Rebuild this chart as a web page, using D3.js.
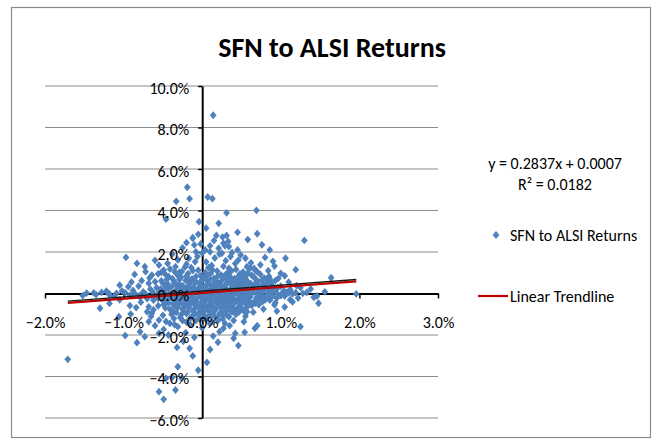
<!DOCTYPE html>
<html><head><meta charset="utf-8">
<script src="https://cdn.jsdelivr.net/npm/d3@7"></script>
<style>body{margin:0;background:#fff}svg{display:block}</style>
</head><body><svg id="c" width="655" height="441"></svg>
<script>
const chartTitle = "SFN to ALSI Returns";
const seriesName = "SFN to ALSI Returns";
const trendName = "Linear Trendline";
const trendSlope = 0.2837;
const trendIntercept = 0.0007;
const trendR2 = 0.0182;
const xTicks = [-0.02, -0.01, 0, 0.01, 0.02, 0.03];
const yTicks = [-0.06, -0.04, -0.02, 0, 0.02, 0.04, 0.06, 0.08, 0.10];

// [ALSI daily return %, SFN daily return %]
const outliersHigh = [[0.14,8.59],[-0.19,5.12],[-0.33,4.44],[-0.16,4.57],[-0.46,3.58],[-0.04,3.46],[-0.12,2.69],[-0.02,2.39],[0.07,4.65],[0.13,4.57],[0.31,3.89],[0.69,4.01],[0.21,3.38],[0.70,2.88],[0.18,2.80],[0.26,2.72],[0.31,2.80],[0.33,2.51],[0.29,2.30],[0.34,2.26],[1.30,2.56],[0.86,2.10]];
const outliersLow = [[-1.71,-3.17],[-1.30,-0.71],[-1.06,-1.12],[-0.91,-0.99],[-0.84,-0.68],[-0.98,-2.03],[-0.83,-2.37],[-0.79,-1.84],[-0.73,-2.08],[-0.68,-1.36],[-0.60,-1.55],[-0.55,-1.92],[-0.49,-1.73],[-0.41,-1.44],[-0.43,-2.00],[-0.31,-3.53],[-0.46,-4.09],[-0.38,-4.04],[-0.34,-4.65],[-0.55,-4.73],[-0.49,-5.10],[-0.26,-4.09],[-0.16,-2.64],[-0.12,-3.01],[-0.10,-2.11],[-0.21,-1.89],[-0.31,-1.60],[-0.68,-0.64],[-0.70,-0.88],[-0.64,-0.95],[-0.55,-1.28],[0.06,-3.32],[0.20,-2.35],[0.46,-2.51],[0.40,-2.16],[0.42,-1.92],[0.54,-1.87],[0.67,-1.68],[0.70,-1.55],[0.53,-1.36],[0.57,-0.88],[1.25,-1.60],[0.22,-1.84],[0.27,-1.68],[0.29,-1.44],[1.42,-0.18],[1.48,-0.47],[0.92,-0.55],[0.80,-0.31],[0.87,-0.23],[0.04,-0.80],[0.12,-0.95],[0.34,-1.12],[0.38,-0.88]];
const upperSpread = [[1.06,1.70],[0.80,1.74],[1.19,1.15],[0.84,1.10],[1.00,0.97],[0.97,0.73],[1.64,0.76],[0.49,1.86],[0.46,1.61],[0.38,1.97],[0.34,1.21],[0.36,1.13],[0.57,1.29],[0.66,1.21],[0.70,1.05],[0.83,0.73],[0.87,0.57],[0.55,0.73],[0.59,0.49],[0.04,2.10],[0.10,2.01],[0.27,2.42],[0.21,2.18],[0.25,1.94],[-0.97,1.74],[-0.83,1.45],[-0.73,1.29],[-0.72,1.05],[-0.64,0.89],[-0.55,1.37],[-0.49,1.13],[-0.43,0.81],[-0.34,1.29],[-0.26,1.05],[-0.94,0.33],[-0.81,0.36],[-0.68,0.49],[-0.60,0.57],[-0.12,2.66],[-0.10,2.34],[-0.08,2.01],[-0.17,1.70],[-0.09,1.53],[-0.31,1.62],[-0.20,1.41],[-0.06,1.78],[0.05,1.52],[0.12,1.35],[0.16,1.71],[0.30,1.58],[0.42,1.44],[-0.38,1.90],[0.00,1.95],[0.22,1.90],[0.55,1.70],[-0.25,2.20],[0.10,2.30],[-0.44,1.45],[-0.14,1.25],[0.62,1.48],[0.74,1.38],[0.92,1.32],[0.45,2.10],[0.15,2.55],[-0.05,2.85],[-0.20,2.45],[0.36,1.78],[-0.60,1.60],[-0.67,0.75],[-0.77,0.62],[-0.90,0.55],[-1.05,0.40],[-0.56,0.95],[-0.86,0.92],[1.10,0.55],[1.20,0.38],[1.05,0.85],[0.90,1.55],[0.76,2.35],[0.58,2.60],[0.45,2.95],[0.05,3.15]];
const lowerSpread = [[-0.62,-0.78],[-0.78,-0.42],[-0.92,-0.58],[-1.05,-0.30],[-1.18,-0.48],[-0.50,-1.05],[-0.46,-1.35],[-0.35,-1.50],[-0.25,-1.30],[-0.65,-1.10],[-0.24,-2.30],[-0.32,-2.60],[0.00,-1.65],[0.10,-1.45],[0.14,-2.05],[0.35,-1.55],[0.55,-1.10],[0.65,-0.90],[0.78,-0.75],[0.95,-0.85],[1.05,-0.65],[1.12,-0.30],[0.10,-2.70],[-0.05,-3.70],[0.20,-1.30],[-0.15,-1.50],[-0.70,-0.25],[-0.80,-0.10]];
const axisBand = [[-1.47,0.02],[-1.38,0.03],[-1.28,0.05],[-1.19,0.02],[-1.09,0.01],[-0.98,0.04],[-1.18,-0.07],[1.96,-0.02],[1.02,0.02],[1.10,0.03],[1.19,0.04],[-1.52,-0.10],[-1.35,-0.05],[-1.22,0.11],[-1.12,-0.15],[-1.02,0.12],[-0.92,-0.08],[-0.88,0.15],[-0.79,-0.18],[-0.75,0.08],[-0.66,0.21],[-0.62,-0.32],[1.05,-0.12],[1.12,0.18],[1.22,-0.22],[1.33,0.05],[1.38,0.22],[1.15,-0.40],[1.00,0.35],[0.93,-0.45],[1.46,-0.12],[1.56,0.08],[1.25,0.28]];
const coreCluster = [[-0.41,1.18],[-0.22,1.27],[-0.05,1.12],[0.08,1.24],[0.19,1.08],[0.27,1.31],[0.43,1.16],[0.52,1.04],[0.61,1.22],
[-0.47,0.93],[-0.31,0.87],[-0.18,0.96],[-0.02,0.85],[0.11,0.98],[0.24,0.90],[0.35,0.83],[0.48,0.95],[0.63,0.88],[0.74,0.92],
[-0.38,0.72],[-0.27,0.78],[-0.13,0.70],[0.02,0.76],[0.15,0.73],[0.29,0.79],[0.41,0.71],[0.53,0.77],[0.68,0.69],[0.79,0.74],
[-0.52,0.61],[-0.36,0.58],[-0.21,0.63],[-0.08,0.57],[0.06,0.62],[0.18,0.59],[0.33,0.64],[0.45,0.56],[0.57,0.61],[0.71,0.58],[0.93,0.62],
[-0.44,0.46],[-0.29,0.43],[-0.16,0.48],[-0.03,0.44],[0.09,0.47],[0.22,0.42],[0.37,0.46],[0.49,0.41],[0.62,0.47],[0.77,0.43],[0.88,0.45],
[-0.58,0.28],[-0.39,0.32],[-0.24,0.27],[-0.11,0.31],[0.01,0.29],[0.13,0.33],[0.26,0.28],[0.39,0.31],[0.51,0.26],[0.66,0.32],[0.81,0.29],[0.96,0.27],
[-0.49,0.16],[-0.33,0.13],[-0.19,0.17],[-0.06,0.12],[0.07,0.16],[0.20,0.14],[0.31,0.18],[0.44,0.11],[0.58,0.15],[0.72,0.13],[0.85,0.17],[1.04,0.12],
[-0.86,0.01],[-0.72,-0.02],[-0.55,0.03],[-0.41,-0.01],[-0.27,0.02],[-0.14,-0.03],[0.03,0.01],[0.16,-0.02],[0.28,0.03],[0.42,0.00],[0.55,-0.01],[0.69,0.02],[0.83,-0.03],[0.95,0.01],[1.15,-0.02],[1.28,0.01],
[-0.63,-0.14],[-0.46,-0.17],[-0.30,-0.12],[-0.17,-0.16],[-0.04,-0.13],[0.10,-0.18],[0.23,-0.14],[0.36,-0.16],[0.49,-0.12],[0.61,-0.17],[0.76,-0.15],[0.89,-0.13],
[-0.51,-0.31],[-0.37,-0.28],[-0.22,-0.33],[-0.09,-0.29],[0.05,-0.32],[0.18,-0.27],[0.32,-0.31],[0.45,-0.29],[0.59,-0.33],[0.72,-0.28],[0.86,-0.32],
[-0.43,-0.46],[-0.28,-0.43],[-0.14,-0.47],[0.00,-0.44],[0.12,-0.48],[0.27,-0.42],[0.41,-0.46],[0.54,-0.44],[0.68,-0.47],
[-0.56,-0.59],[-0.35,-0.62],[-0.20,-0.58],[-0.07,-0.63],[0.08,-0.60],[0.21,-0.57],[0.35,-0.61],[0.47,-0.64],[0.63,-0.58],
[-0.41,-0.76],[-0.25,-0.73],[-0.11,-0.78],[0.03,-0.74],[0.17,-0.77],[0.30,-0.72],[0.44,-0.75],
[-0.33,-0.91],[-0.18,-0.88],[-0.04,-0.93],[0.09,-0.87],[0.25,-0.92],[0.47,-0.89],
[-0.27,-1.04],[-0.12,-1.07],[0.02,-1.02],[0.15,-1.06],[0.31,-1.03],
[-0.36,-1.21],[-0.15,-1.18],[-0.03,-1.23],[0.19,-1.19],
[-0.21,0.05],[-0.10,0.08],[0.00,-0.07],[0.10,0.06],[0.21,0.08],[0.34,-0.07],[0.47,0.07],[0.60,-0.06],
[-0.25,0.38],[-0.13,0.22],[-0.01,0.36],[0.12,0.24],[0.24,0.37],[0.36,0.22],[0.50,0.35],[0.63,0.21],
[-0.20,-0.23],[-0.07,-0.38],[0.06,-0.22],[0.18,-0.39],[0.30,-0.21],[0.42,-0.37],[0.55,-0.23],[0.66,-0.40],
[-0.16,0.66],[-0.03,0.52],[0.10,0.68],[0.23,0.52],[0.38,0.67],[0.52,0.53],
[-0.30,-0.52],[-0.17,-0.68],[-0.02,-0.54],[0.14,-0.68],[0.27,-0.53],[0.39,-0.69],
[-0.08,0.82],[0.04,1.00],[0.20,0.84],[0.33,1.02],[-0.29,1.02],[0.55,0.84],
[-0.10,-0.98],[0.07,-1.13],[0.22,-0.97],[0.36,-0.84]];
const coreFill = [[-0.35,1.05],[-0.12,1.10],[0.13,1.14],[0.37,1.08],[0.58,0.98],[0.68,1.10],[-0.52,1.02],
[-0.43,0.80],[-0.20,0.84],[0.06,0.88],[0.30,0.92],[0.46,0.83],[0.66,0.79],[0.85,0.82],
[-0.45,0.67],[-0.29,0.68],[0.00,0.66],[0.26,0.69],[0.50,0.67],[0.76,0.64],[0.86,0.70],
[-0.50,0.50],[-0.35,0.53],[-0.09,0.51],[0.16,0.55],[0.31,0.51],[0.43,0.52],[0.69,0.53],[0.82,0.51],
[-0.47,0.37],[-0.33,0.39],[-0.18,0.35],[0.05,0.40],[0.18,0.38],[0.30,0.41],[0.44,0.37],[0.57,0.40],[0.71,0.38],[0.89,0.36],
[-0.53,0.22],[-0.43,0.24],[-0.30,0.21],[-0.05,0.23],[0.04,0.21],[0.17,0.24],[0.29,0.22],[0.45,0.24],[0.56,0.21],[0.70,0.24],[0.79,0.21],[0.92,0.20],
[-0.63,0.08],[-0.48,0.06],[-0.35,0.09],[-0.04,0.05],[0.15,0.09],[0.27,0.07],[0.39,0.10],[0.53,0.08],[0.65,0.06],[0.77,0.09],[0.89,0.07],[1.08,0.06],
[-0.57,-0.06],[-0.34,-0.08],[-0.24,-0.05],[-0.12,-0.09],[0.08,-0.06],[0.22,-0.08],[0.47,-0.05],[0.72,-0.08],[0.85,-0.06],[1.00,-0.09],
[-0.56,-0.23],[-0.41,-0.21],[-0.28,-0.24],[-0.13,-0.22],[0.00,-0.25],[0.13,-0.21],[0.26,-0.25],[0.39,-0.22],[0.50,-0.25],[0.69,-0.21],[0.80,-0.24],[0.95,-0.22],
[-0.46,-0.39],[-0.32,-0.37],[-0.17,-0.41],[0.01,-0.36],[0.11,-0.40],[0.24,-0.36],[0.36,-0.40],[0.51,-0.37],[0.60,-0.41],[0.77,-0.38],
[-0.49,-0.53],[-0.37,-0.50],[-0.23,-0.54],[-0.10,-0.51],[0.04,-0.55],[0.19,-0.50],[0.33,-0.54],[0.48,-0.52],[0.58,-0.50],[0.72,-0.54],
[-0.47,-0.69],[-0.31,-0.67],[-0.04,-0.70],[0.09,-0.66],[0.24,-0.69],[0.50,-0.70],[0.57,-0.66],
[-0.38,-0.84],[-0.24,-0.82],[-0.11,-0.86],[0.00,-0.82],[0.15,-0.85],[0.30,-0.83],[0.41,-0.81],[0.53,-0.84],
[-0.39,-1.00],[-0.20,-0.97],[-0.05,-1.03],[0.11,-0.99],[0.26,-1.05],[0.43,-1.01],
[-0.28,-1.16],[-0.08,-1.30],[0.05,-1.26],[0.12,-1.35],[0.26,-1.22],[-0.20,-1.38],[0.40,-1.30]];

const returns = [].concat(outliersHigh, outliersLow, upperSpread, lowerSpread, axisBand, coreCluster, coreFill)
  .map(([a, s]) => ({ alsi: a / 100, sfn: s / 100 }));

const FONT = 'Carlito, "Liberation Sans Narrow", "Arial Narrow", "Liberation Sans", Arial, sans-serif';
const BLUE = "#4F81BD";

const svg = d3.select("#c");
svg.append("rect").attr("width", 655).attr("height", 441).attr("fill", "#fff");
svg.append("rect").attr("x", 11.5).attr("y", 7.5).attr("width", 639).attr("height", 430)
  .attr("fill", "none").attr("stroke", "#8a8a8a").attr("stroke-width", 1.2);

const x = d3.scaleLinear().domain([-0.02, 0.03]).range([45, 438]);
const y = d3.scaleLinear().domain([-0.06, 0.10]).range([418, 86]);

// title
svg.append("text").attr("x", 332).attr("y", 57).attr("text-anchor", "middle")
  .attr("font-family", FONT).attr("font-weight", "bold").attr("font-size", 28).attr("fill", "#000")
  .text(chartTitle);

// gridlines
svg.append("g").selectAll("line").data(yTicks).join("line")
  .attr("x1", x.range()[0]).attr("x2", x.range()[1])
  .attr("y1", d => y(d)).attr("y2", d => y(d))
  .attr("stroke", "#8c8c8c").attr("stroke-width", 1);

const fmt = d3.format(".1%");
const yAxis = d3.axisLeft(y).tickValues(yTicks).tickFormat(fmt).tickSize(4).tickSizeOuter(0).tickPadding(9);
const xAxis = d3.axisBottom(x).tickValues(xTicks).tickFormat(fmt).tickSize(5).tickSizeOuter(0).tickPadding(18);

function styleLines(g) {
  g.select(".domain").attr("stroke", "#000").attr("stroke-width", 2);
  g.selectAll(".tick line").attr("stroke", "#000").attr("stroke-width", 1.5);
  g.selectAll(".tick text").remove();
}
svg.append("g").attr("transform", `translate(${x(0)},0)`).call(yAxis).call(styleLines);
svg.append("g").attr("transform", `translate(0,${y(0)})`).call(xAxis).call(styleLines);

// points
const diamond = "M0,-3.9L3.4,0L0,3.9L-3.4,0Z";
svg.append("g").selectAll("path").data(returns).join("path")
  .attr("d", diamond)
  .attr("transform", d => `translate(${x(d.alsi)},${y(d.sfn)})`)
  .attr("fill", BLUE);

// trendlines
const ext = d3.extent(returns, d => d.alsi);
const fit = ext.map(a => ({ a, s: trendSlope * a + trendIntercept }));
const line = d3.line().x(d => x(d.a)).y(d => y(d.s));
svg.append("path").datum(fit).attr("d", line).attr("fill", "none")
  .attr("stroke", "#C00000").attr("stroke-width", 2.2).attr("transform", "translate(0,0.8)");
svg.append("path").datum(fit).attr("d", line).attr("fill", "none")
  .attr("stroke", "#1a1a1a").attr("stroke-width", 1.3).attr("transform", "translate(0,-1)");

// axis labels on top
function styleText(g) {
  g.select(".domain").remove();
  g.selectAll(".tick line").remove();
  g.attr("font-family", FONT).attr("font-size", 16);
  g.selectAll(".tick text").attr("fill", "#000");
}
svg.append("g").attr("transform", `translate(${x(0)},0)`).call(yAxis).call(styleText)
  .selectAll(".tick text").attr("dy", "0.45em");
svg.append("g").attr("transform", `translate(0,${y(0)})`).call(xAxis).call(styleText);

// trendline equation
const eq = svg.append("text").attr("font-family", FONT).attr("font-size", 16).attr("fill", "#000")
  .attr("text-anchor", "middle");
eq.append("tspan").attr("x", 555).attr("y", 169)
  .text(`y = ${trendSlope}x + ${d3.format(".4f")(trendIntercept)}`);
eq.append("tspan").attr("x", 555).attr("y", 190).text(`R² = ${trendR2}`);

// legend
const lg = svg.append("g").attr("font-family", FONT).attr("font-size", 16).attr("fill", "#000");
lg.append("path").attr("d", diamond).attr("fill", BLUE).attr("transform", "translate(496,235)");
lg.append("text").attr("x", 510).attr("y", 241).text(seriesName);
lg.append("line").attr("x1", 478).attr("x2", 508).attr("y1", 296).attr("y2", 296)
  .attr("stroke", "#C00000").attr("stroke-width", 2.2);
lg.append("text").attr("x", 510).attr("y", 302).text(trendName);
</script></body></html>
